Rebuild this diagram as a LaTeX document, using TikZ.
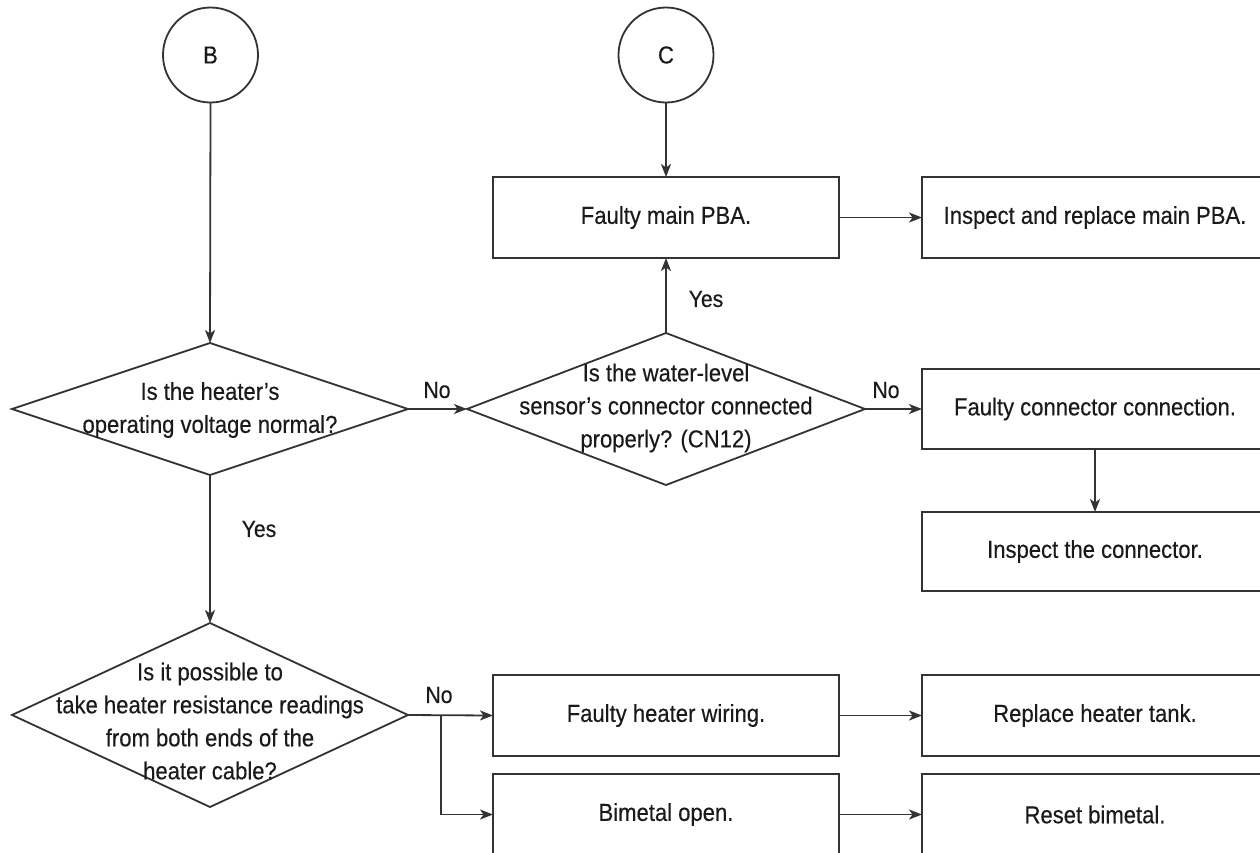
\documentclass[tikz,border=0pt]{standalone}
\usepackage{fontspec}
\setmainfont{Liberation Sans}[FakeStretch=0.9,FakeBold=0.3]
\usetikzlibrary{shapes.geometric,arrows.meta}
\definecolor{ln}{HTML}{333333}
\definecolor{tx}{HTML}{1A1A1A}
\begin{document}
\begin{tikzpicture}[x=1pt,y=-1pt,
  every node/.style={text=tx,font=\fontsize{24.5}{33}\selectfont},
  conn/.style={draw=ln,line width=1.8pt,circle,minimum size=95pt,inner sep=0pt,outer sep=0pt},
  boxnode/.style={draw=ln,line width=1.8pt,rectangle,minimum width=346pt,minimum height=81pt,inner sep=0pt,outer sep=0pt},
  dia/.style={draw=ln,line width=1.8pt,diamond,inner sep=0pt,outer sep=0pt},
  dtext/.style={align=center,inner sep=0pt},
  lbl/.style={font=\fontsize{23.5}{28}\selectfont,inner sep=0pt},
  arr/.style={draw=ln,line width=1.8pt,-{Stealth[length=13pt,width=10pt,inset=3.5pt]}},
  plain/.style={draw=ln,line width=1.8pt}]
\useasboundingbox (0,0) rectangle (1260,852);
\fill[white] (0,0) rectangle (1260,852);

% connectors B and C
\node[conn] (B) at (210.5,55) {B};
\node[conn] (C) at (666,55) {C};

% diamonds
\node[dia,minimum width=396pt,minimum height=132pt] (d1) at (210,409) {};
\node[dtext] (d1t) at (210,410) {Is the heater’s\\operating voltage normal?};
\node[dia,minimum width=398pt,minimum height=152pt] (d2) at (666,409) {};
\node[dtext] (d2t) at (666,408) {Is the water-level\\sensor’s connector connected\\properly? (CN12)};
\node[dia,minimum width=396pt,minimum height=184pt] (d3) at (210,715) {};
\node[dtext] (d3t) at (210,721) {Is it possible to\\take heater resistance readings\\from both ends of the\\heater cable?};

% boxes
\node[boxnode] (pba) at (666,217.5) {Faulty main PBA.};
\node[boxnode] (ipba) at (1095,217.5) {Inspect and replace main PBA.};
\node[boxnode,minimum height=80pt] (fcc) at (1095,409) {Faulty connector connection.};
\node[boxnode,minimum height=79pt] (ic) at (1095,551.5) {Inspect the connector.};
\node[boxnode] (fhw) at (666,715.5) {Faulty heater wiring.};
\node[boxnode] (bo) at (666,814.5) {Bimetal open.};
\node[boxnode] (rht) at (1095,715.5) {Replace heater tank.};
\node[boxnode] (rb) at (1095,814.5) {Reset bimetal.};

% connectors
\draw[arr] (B.south) -- (d1.north);
\draw[arr] (C.south) -- (pba.north);
\draw[arr] (d2.north) -- (pba.south);
\draw[arr] (pba.east) -- (ipba.west);
\draw[arr] (d1.east) -- (d2.west);
\draw[arr] (d2.east) -- (fcc.west);
\draw[arr] (fcc.south) -- (ic.north);
\draw[arr] (d1.south) -- (d3.north);
\draw[arr] (d3.east) -- (fhw.west);
\coordinate (br) at (441,715.5);
\draw[arr] (br) |- (bo.west);
\draw[arr] (fhw.east) -- (rht.west);
\draw[arr] (bo.east) -- (rb.west);

% labels
\node[lbl] (no1) at (437,390) {No};
\node[lbl] (no2) at (886,390) {No};
\node[lbl] (no3) at (439,695) {No};
\node[lbl] (yes1) at (706,299) {Yes};
\node[lbl] (yes2) at (259,529) {Yes};
\end{tikzpicture}
\end{document}
